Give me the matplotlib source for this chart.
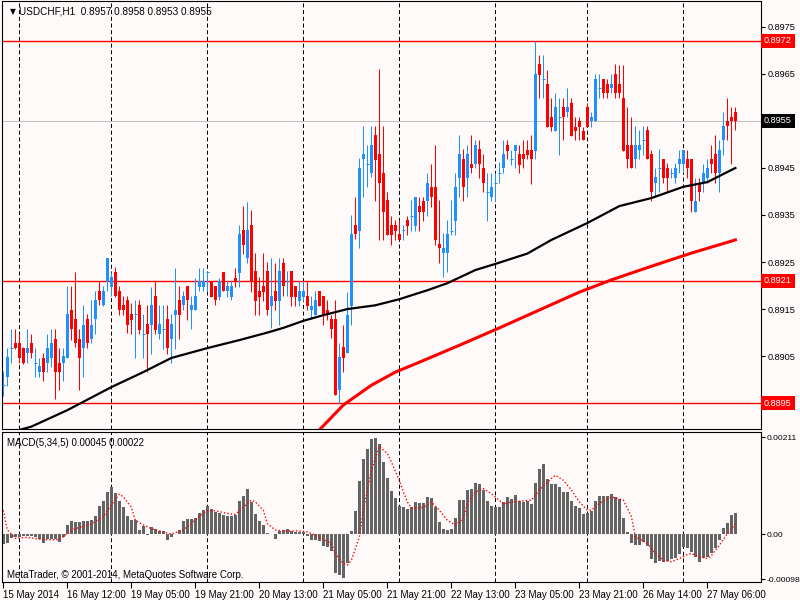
import matplotlib
matplotlib.use("Agg")
import matplotlib.pyplot as plt
import matplotlib.transforms as mtransforms
import numpy as np

plt.rcParams['font.family'] = ['Liberation Sans', 'DejaVu Sans']

# ---------------------------------------------------------------
# USDCHF H1 bougies
# ---------------------------------------------------------------
opens = [0.88988, 0.89006, 0.89068, 0.89077, 0.89077, 0.89068, 0.89057, 0.89077, 0.89036, 0.89017,
         0.89046, 0.89036, 0.89046, 0.89087, 0.89036, 0.89036, 0.89046, 0.89148, 0.89128, 0.89087,
         0.89068, 0.89128, 0.89087, 0.89128, 0.89188, 0.89158, 0.89208, 0.89197, 0.89228, 0.89188,
         0.89158, 0.89169, 0.89139, 0.89139, 0.89158, 0.89098, 0.89118, 0.89116, 0.89177, 0.89097,
         0.89107, 0.89128, 0.89087, 0.89137, 0.89169, 0.89158, 0.89199, 0.89148, 0.89148, 0.89197,
         0.89197, 0.89229, 0.89210, 0.89199, 0.89176, 0.89229, 0.89189, 0.89176, 0.89217, 0.89227,
         0.89318, 0.89258, 0.89329, 0.89230, 0.89189, 0.89199, 0.89230, 0.89157, 0.89189, 0.89168,
         0.89249, 0.89210, 0.89230, 0.89199, 0.89168, 0.89176, 0.89178, 0.89147, 0.89137, 0.89189,
         0.89178, 0.89148, 0.89128, 0.89128, 0.88978, 0.89069, 0.89057, 0.89157, 0.89329, 0.89317,
         0.89469, 0.89459, 0.89439, 0.89520, 0.89480, 0.89439, 0.89381, 0.89329, 0.89329, 0.89310,
         0.89318, 0.89340, 0.89348, 0.89327, 0.89369, 0.89379, 0.89379, 0.89409, 0.89409, 0.89289,
         0.89269, 0.89269, 0.89317, 0.89338, 0.89428, 0.89469, 0.89428, 0.89459, 0.89459, 0.89490,
         0.89450, 0.89398, 0.89388, 0.89418, 0.89439, 0.89450, 0.89499, 0.89469, 0.89487, 0.89480,
         0.89480, 0.89489, 0.89489, 0.89487, 0.89670, 0.89639, 0.89629, 0.89558, 0.89528, 0.89558,
         0.89579, 0.89568, 0.89589, 0.89538, 0.89549, 0.89528, 0.89579, 0.89549, 0.89549, 0.89620,
         0.89639, 0.89629, 0.89620, 0.89650, 0.89629, 0.89598, 0.89499, 0.89499, 0.89469, 0.89489,
         0.89510, 0.89530, 0.89480, 0.89418, 0.89450, 0.89469, 0.89450, 0.89439, 0.89428, 0.89459,
         0.89459, 0.89469, 0.89469, 0.89357, 0.89418, 0.89418, 0.89428, 0.89469, 0.89480, 0.89439,
         0.89510, 0.89550, 0.89559, 0.89570]
highs = [0.89019, 0.89068, 0.89107, 0.89107, 0.89098, 0.89070, 0.89107, 0.89098, 0.89068, 0.89046,
         0.89057, 0.89098, 0.89107, 0.89107, 0.89068, 0.89068, 0.89199, 0.89199, 0.89228, 0.89107,
         0.89159, 0.89139, 0.89169, 0.89188, 0.89210, 0.89199, 0.89259, 0.89228, 0.89240, 0.89199,
         0.89178, 0.89178, 0.89162, 0.89169, 0.89169, 0.89139, 0.89158, 0.89197, 0.89210, 0.89158,
         0.89158, 0.89158, 0.89139, 0.89238, 0.89199, 0.89189, 0.89199, 0.89177, 0.89217, 0.89238,
         0.89238, 0.89230, 0.89210, 0.89199, 0.89217, 0.89229, 0.89210, 0.89210, 0.89238, 0.89329,
         0.89369, 0.89378, 0.89360, 0.89270, 0.89219, 0.89270, 0.89251, 0.89258, 0.89249, 0.89258,
         0.89258, 0.89230, 0.89230, 0.89199, 0.89210, 0.89210, 0.89210, 0.89178, 0.89189, 0.89189,
         0.89178, 0.89169, 0.89137, 0.89169, 0.89077, 0.89116, 0.89187, 0.89350, 0.89389, 0.89471,
         0.89540, 0.89499, 0.89540, 0.89540, 0.89660, 0.89540, 0.89398, 0.89348, 0.89340, 0.89340,
         0.89329, 0.89348, 0.89381, 0.89389, 0.89389, 0.89389, 0.89440, 0.89459, 0.89499, 0.89381,
         0.89311, 0.89340, 0.89381, 0.89439, 0.89520, 0.89490, 0.89499, 0.89520, 0.89510, 0.89510,
         0.89480, 0.89439, 0.89439, 0.89439, 0.89462, 0.89510, 0.89510, 0.89489, 0.89499, 0.89499,
         0.89510, 0.89510, 0.89521, 0.89721, 0.89691, 0.89691, 0.89659, 0.89599, 0.89609, 0.89599,
         0.89599, 0.89620, 0.89599, 0.89558, 0.89558, 0.89538, 0.89589, 0.89568, 0.89650, 0.89650,
         0.89639, 0.89639, 0.89650, 0.89670, 0.89669, 0.89669, 0.89579, 0.89559, 0.89540, 0.89530,
         0.89540, 0.89540, 0.89489, 0.89450, 0.89490, 0.89469, 0.89460, 0.89450, 0.89460, 0.89489,
         0.89489, 0.89489, 0.89469, 0.89428, 0.89428, 0.89459, 0.89469, 0.89499, 0.89520, 0.89510,
         0.89570, 0.89598, 0.89579, 0.89580]
lows = [0.88965, 0.88986, 0.89036, 0.89066, 0.89036, 0.89034, 0.89036, 0.89046, 0.89006, 0.89006,
        0.88997, 0.89017, 0.89027, 0.88958, 0.88978, 0.88997, 0.89046, 0.89084, 0.89070, 0.88978,
        0.89006, 0.89068, 0.89077, 0.89098, 0.89158, 0.89156, 0.89188, 0.89178, 0.89176, 0.89138,
        0.89138, 0.89100, 0.89097, 0.89047, 0.89097, 0.89047, 0.89016, 0.89055, 0.89097, 0.89087,
        0.89066, 0.89055, 0.89036, 0.89066, 0.89087, 0.89148, 0.89126, 0.89107, 0.89148, 0.89189,
        0.89189, 0.89189, 0.89176, 0.89158, 0.89169, 0.89189, 0.89176, 0.89169, 0.89197, 0.89197,
        0.89267, 0.89247, 0.89187, 0.89137, 0.89137, 0.89168, 0.89137, 0.89109, 0.89148, 0.89116,
        0.89178, 0.89178, 0.89157, 0.89157, 0.89157, 0.89168, 0.89148, 0.89128, 0.89137, 0.89157,
        0.89116, 0.89126, 0.89088, 0.88967, 0.88950, 0.89017, 0.89057, 0.89116, 0.89298, 0.89279,
        0.89389, 0.89410, 0.89430, 0.89379, 0.89297, 0.89297, 0.89308, 0.89286, 0.89297, 0.89297,
        0.89297, 0.89308, 0.89317, 0.89317, 0.89317, 0.89338, 0.89347, 0.89368, 0.89286, 0.89247,
        0.89218, 0.89228, 0.89308, 0.89308, 0.89388, 0.89379, 0.89388, 0.89439, 0.89450, 0.89428,
        0.89398, 0.89338, 0.89379, 0.89379, 0.89418, 0.89439, 0.89469, 0.89457, 0.89450, 0.89439,
        0.89450, 0.89469, 0.89416, 0.89469, 0.89599, 0.89599, 0.89538, 0.89528, 0.89528, 0.89478,
        0.89510, 0.89558, 0.89518, 0.89510, 0.89510, 0.89510, 0.89538, 0.89538, 0.89549, 0.89599,
        0.89599, 0.89599, 0.89609, 0.89599, 0.89598, 0.89487, 0.89450, 0.89450, 0.89450, 0.89469,
        0.89478, 0.89469, 0.89379, 0.89389, 0.89398, 0.89418, 0.89398, 0.89428, 0.89418, 0.89439,
        0.89439, 0.89428, 0.89357, 0.89357, 0.89379, 0.89398, 0.89418, 0.89439, 0.89418, 0.89398,
        0.89478, 0.89510, 0.89459, 0.89530]
closes = [0.88988, 0.89048, 0.89068, 0.89068, 0.89046, 0.89036, 0.89068, 0.89057, 0.89036, 0.89029,
          0.89017, 0.89068, 0.89077, 0.89017, 0.89017, 0.89050, 0.89139, 0.89107, 0.89077, 0.89046,
          0.89117, 0.89077, 0.89117, 0.89169, 0.89169, 0.89188, 0.89259, 0.89219, 0.89178, 0.89148,
          0.89148, 0.89117, 0.89126, 0.89139, 0.89105, 0.89098, 0.89097, 0.89158, 0.89105, 0.89118,
          0.89107, 0.89068, 0.89118, 0.89148, 0.89137, 0.89177, 0.89169, 0.89158, 0.89177, 0.89210,
          0.89210, 0.89229, 0.89176, 0.89169, 0.89210, 0.89189, 0.89199, 0.89199, 0.89208, 0.89309,
          0.89286, 0.89318, 0.89208, 0.89168, 0.89176, 0.89187, 0.89148, 0.89178, 0.89168, 0.89230,
          0.89198, 0.89210, 0.89176, 0.89176, 0.89189, 0.89189, 0.89157, 0.89157, 0.89169, 0.89157,
          0.89137, 0.89137, 0.89107, 0.88967, 0.89049, 0.89047, 0.89137, 0.89310, 0.89310, 0.89450,
          0.89480, 0.89459, 0.89499, 0.89467, 0.89418, 0.89357, 0.89308, 0.89308, 0.89317, 0.89297,
          0.89318, 0.89327, 0.89348, 0.89389, 0.89357, 0.89357, 0.89418, 0.89388, 0.89297, 0.89279,
          0.89279, 0.89310, 0.89317, 0.89409, 0.89480, 0.89409, 0.89480, 0.89450, 0.89499, 0.89459,
          0.89418, 0.89398, 0.89409, 0.89418, 0.89439, 0.89480, 0.89487, 0.89469, 0.89499, 0.89457,
          0.89469, 0.89478, 0.89469, 0.89650, 0.89648, 0.89639, 0.89538, 0.89538, 0.89579, 0.89558,
          0.89558, 0.89579, 0.89518, 0.89528, 0.89538, 0.89510, 0.89538, 0.89558, 0.89639, 0.89620,
          0.89609, 0.89609, 0.89629, 0.89609, 0.89609, 0.89487, 0.89469, 0.89450, 0.89499, 0.89499,
          0.89510, 0.89469, 0.89398, 0.89430, 0.89450, 0.89428, 0.89428, 0.89439, 0.89450, 0.89469,
          0.89489, 0.89450, 0.89379, 0.89379, 0.89398, 0.89439, 0.89450, 0.89459, 0.89439, 0.89489,
          0.89540, 0.89540, 0.89550, 0.89550]

# moyennes mobiles (points relevés : indice de bougie, valeur)
ma_black_idx = [4, 7, 16, 27, 35, 42, 51, 59, 66, 70, 75, 80, 86, 93, 99, 106, 111, 118, 123,
                131, 137, 146, 154, 162, 170, 176, 183]
ma_black_val = [0.88893, 0.88900, 0.88935, 0.88984, 0.89016, 0.89046, 0.89067, 0.89084, 0.89100,
                0.89110, 0.89125, 0.89137, 0.89150, 0.89158, 0.89171, 0.89190, 0.89205, 0.89233,
                0.89246, 0.89268, 0.89297, 0.89333, 0.89369, 0.89386, 0.89410, 0.89420, 0.89450]
ma_red_idx = [79, 85, 92, 98, 104, 114, 124, 134, 144, 152, 162, 172, 183]
ma_red_val = [0.88893, 0.88946, 0.88988, 0.89016, 0.89037, 0.89073, 0.89110, 0.89148, 0.89186,
              0.89212, 0.89241, 0.89269, 0.89297]

# MACD(5,34,5) histogramme
macd = [-0.00022, -0.00019, -0.00009, -0.00007, -0.00006, -0.00004, -0.00004, -0.00003, -0.00007, -0.00010,
        -0.00020, -0.00010, -0.00010, -0.00010, -0.00017, -0.00006, 0.00019, 0.00028, 0.00026, 0.00026,
        0.00029, 0.00029, 0.00030, 0.00040, 0.00061, 0.00071, 0.00092, 0.00102, 0.00089, 0.00071,
        0.00058, 0.00040, 0.00031, 0.00031, 0.00009, 0.00018, -0.00001, 0.00016, 0.00011, 0.00007,
        0.00006, -0.00012, -0.00007, 0.00001, 0.00010, 0.00028, 0.00033, 0.00033, 0.00036, 0.00046,
        0.00053, 0.00062, 0.00054, 0.00049, 0.00045, 0.00041, 0.00039, 0.00039, 0.00041, 0.00071,
        0.00082, 0.00098, 0.00069, 0.00044, 0.00029, 0.00020, 0.00003, 0.00001, -0.00010, 0.00007,
        0.00010, 0.00011, 0.00007, 0.00004, 0.00004, 0.00004, -0.00004, -0.00012, -0.00012, -0.00015,
        -0.00026, -0.00028, -0.00036, -0.00085, -0.00088, -0.00095, -0.00062, 0.00007, 0.00051, 0.00115,
        0.00163, 0.00185, 0.00207, 0.00209, 0.00196, 0.00157, 0.00122, 0.00094, 0.00078, 0.00061,
        0.00058, 0.00055, 0.00058, 0.00070, 0.00068, 0.00068, 0.00080, 0.00078, 0.00058, 0.00026,
        0.00012, 0.00010, 0.00012, 0.00036, 0.00074, 0.00075, 0.00096, 0.00099, 0.00112, 0.00109,
        0.00096, 0.00071, 0.00061, 0.00058, 0.00058, 0.00070, 0.00080, 0.00077, 0.00084, 0.00071,
        0.00070, 0.00071, 0.00065, 0.00112, 0.00142, 0.00152, 0.00120, 0.00110, 0.00110, 0.00102,
        0.00091, 0.00091, 0.00071, 0.00061, 0.00057, 0.00044, 0.00046, 0.00051, 0.00073, 0.00083,
        0.00083, 0.00083, 0.00087, 0.00081, 0.00077, 0.00036, 0.00004, -0.00020, -0.00023, -0.00023,
        -0.00016, -0.00026, -0.00055, -0.00062, -0.00058, -0.00061, -0.00059, -0.00055, -0.00052, -0.00044,
        -0.00029, -0.00030, -0.00039, -0.00049, -0.00061, -0.00051, -0.00049, -0.00041, -0.00030, -0.00013,
        0.00013, 0.00025, 0.00041, 0.00045]

signal_idx = [0, 1, 3, 6, 10, 14, 15, 17, 21, 22, 25, 27, 29, 30, 32, 33, 35, 37, 40, 42, 45, 47,
              49, 51, 53, 56, 58, 60, 62, 63, 65, 66, 68, 70, 74, 76, 79, 82, 83, 85, 86, 87, 89,
              90, 92, 94, 96, 97, 99, 100, 101, 102, 105, 107, 109, 111, 113, 115, 116, 118, 120,
              122, 124, 125, 127, 131, 132, 134, 137, 138, 140, 142, 144, 146, 147, 149, 152, 155,
              157, 158, 161, 163, 165, 167, 169, 171, 172, 174, 176, 177, 179, 181, 183]
signal_val = [0.00052, 0.00009, -0.00009, -0.00007, -0.00012, -0.00012, -0.00006, 0.00009, 0.00020,
              0.00022, 0.00038, 0.00063, 0.00087, 0.00081, 0.00059, 0.00030, 0.00020, 0.00012,
              0.00005, 0.00000, 0.00009, 0.00023, 0.00038, 0.00051, 0.00051, 0.00045, 0.00043,
              0.00059, 0.00074, 0.00070, 0.00052, 0.00023, 0.00009, 0.00007, 0.00007, 0.00005,
              -0.00006, -0.00020, -0.00042, -0.00064, -0.00067, -0.00057, -0.00006, 0.00052,
              0.00139, 0.00191, 0.00175, 0.00157, 0.00117, 0.00092, 0.00070, 0.00056, 0.00058,
              0.00070, 0.00052, 0.00030, 0.00020, 0.00034, 0.00067, 0.00092, 0.00099, 0.00088,
              0.00073, 0.00065, 0.00070, 0.00073, 0.00074, 0.00096, 0.00121, 0.00128, 0.00117,
              0.00096, 0.00070, 0.00052, 0.00052, 0.00067, 0.00081, 0.00074, 0.00038, -0.00006,
              -0.00020, -0.00042, -0.00057, -0.00060, -0.00053, -0.00044, -0.00042, -0.00049,
              -0.00053, -0.00046, -0.00024, 0.00001, 0.00022]

# niveaux horizontaux
red_levels = [0.8972, 0.8921, 0.8895]
bid = 0.8955
price_ticks = [0.8975, 0.8965, 0.8945, 0.8935, 0.8925, 0.8915, 0.8905]
macd_ticks = [0.00211, 0.0, -0.00098]
macd_tick_labels = ["0.00211", "0.00", "-0.00098"]

sep_idx = [4, 27, 51, 75, 99, 123, 146, 170]
date_idx = [0, 16, 32, 48, 64, 80, 96, 112, 128, 144, 160, 176]
date_labels = ["15 May 2014", "16 May 12:00", "19 May 05:00", "19 May 21:00", "20 May 13:00",
               "21 May 05:00", "21 May 21:00", "22 May 13:00", "23 May 05:00", "23 May 21:00",
               "26 May 14:00", "27 May 06:00"]

###########################################
# figure
###########################################
bg = "#fffafa"
blue = "#1e90ff"
red = "#ff0000"
fs = 6.6
px = 0.72  # un pixel en points

fig = plt.figure(figsize=(8, 6), dpi=100, facecolor=bg)
ax = fig.add_axes([2 / 800, 171 / 600, 759 / 800, 428 / 600], facecolor=bg)
ax2 = fig.add_axes([2 / 800, 18 / 600, 759 / 800, 150 / 600], facecolor=bg, sharex=ax)

n = len(opens)
x = np.arange(n)
o = np.array(opens)
h = np.array(highs)
l = np.array(lows)
c = np.array(closes)

dash = (0, (4, 2.7))
for s in sep_idx:
    ax.axvline(s, color="black", lw=px, ls=dash, zorder=1)
    ax2.axvline(s, color="black", lw=px, ls=dash, zorder=1)

for lev in red_levels:
    ax.axhline(lev, color=red, lw=1.0, zorder=1)
ax.axhline(bid, color="#c0c0c0", lw=px, zorder=1)

up = c > o
down = c < o
doji = c == o
cols = np.where(c >= o, blue, red)

ax.vlines(x, l, h, colors=cols, lw=px, zorder=2)
ax.bar(x[up], (c - o)[up], bottom=o[up], width=0.75, color=blue, lw=0, zorder=3)
ax.bar(x[down], (o - c)[down], bottom=c[down], width=0.75, color=red, lw=0, zorder=3)
ax.hlines(c[doji], x[doji] - 0.4, x[doji] + 0.4, colors=blue, lw=px, zorder=3)

ax.plot(ma_black_idx, ma_black_val, color="black", lw=1.6, zorder=4)
ax.plot(ma_red_idx, ma_red_val, color=red, lw=2.2, zorder=4)

ax.set_xlim(-0.325, 189.4)
ax.set_ylim(0.88895, 0.89805)

# échelle des prix à droite
ax.yaxis.tick_right()
ax.set_yticks(price_ticks)
ax.set_yticklabels(["%.4f" % t for t in price_ticks])
ax.tick_params(axis="y", length=3, width=0.8, pad=2, labelsize=fs, colors="black")
ax.tick_params(axis="x", bottom=False, labelbottom=False)

trans = mtransforms.blended_transform_factory(ax.transAxes, ax.transData)
for lev in red_levels:
    ax.text(1.004, lev, "%.4f" % lev, transform=trans, color="white", fontsize=fs,
            va="center", ha="left", clip_on=False,
            bbox=dict(boxstyle="square,pad=0.3", fc=red, ec="none"))
ax.text(1.004, bid, "%.4f" % bid, transform=trans, color="white", fontsize=fs,
        va="center", ha="left", clip_on=False,
        bbox=dict(boxstyle="square,pad=0.3", fc="black", ec="none"))

ax.text(0.011, 0.975, "\u25bc", transform=ax.transAxes, fontsize=5.5, va="center", ha="left",
        family=["DejaVu Sans"])
ax.text(0.023, 0.975, "USDCHF,H1  0.8957 0.8958 0.8953 0.8955", transform=ax.transAxes,
        fontsize=fs + 0.6, va="center", ha="left", color="black")

# MACD
ax2.bar(x, macd, width=0.75, color="#646464", lw=0, zorder=2)
ax2.plot(signal_idx, signal_val, color=red, lw=1, ls=(0, (1, 1.5)), zorder=3)
ax2.set_ylim(-0.00104, 0.00222)
ax2.yaxis.tick_right()
ax2.set_yticks(macd_ticks)
ax2.set_yticklabels(macd_tick_labels)
ax2.tick_params(axis="y", length=3, width=0.8, pad=1, labelsize=6.1, colors="black")

ax2.set_xticks(date_idx)
ax2.set_xticklabels(date_labels, ha="left")
ax2.tick_params(axis="x", length=4, width=0.8, pad=2, labelsize=fs + 0.4, colors="black")

ax2.text(0.006, 0.93, "MACD(5,34,5) 0.00045 0.00022", transform=ax2.transAxes,
         fontsize=fs + 0.4, va="center", ha="left")
ax2.text(0.006, 0.045, "MetaTrader, \u00a9 2001-2014, MetaQuotes Software Corp.",
         transform=ax2.transAxes, fontsize=fs + 0.4, va="center", ha="left")

for a in (ax, ax2):
    for sp in a.spines.values():
        sp.set_color("black")
        sp.set_linewidth(0.8)

fig.savefig("out.png", dpi=100, facecolor=bg)
